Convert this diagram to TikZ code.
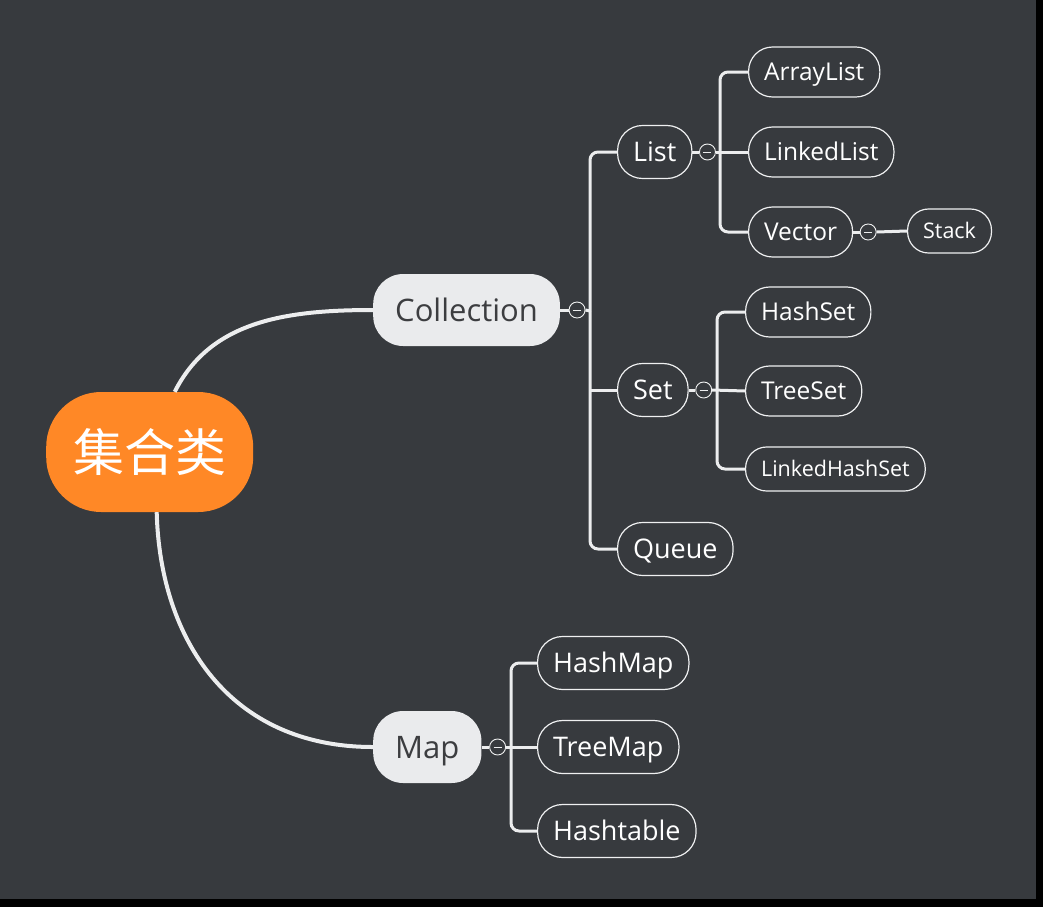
\documentclass[tikz,border=0pt]{standalone}
\usepackage{fontspec}
\setmainfont{Open Sans}
\newfontfamily\cjk{Noto Sans CJK SC}
\definecolor{bgdark}{HTML}{373A3E}
\definecolor{rootorange}{HTML}{FF8826}
\definecolor{paper}{HTML}{EAEBED}
\definecolor{ink}{HTML}{3C3D40}
\definecolor{wirecol}{HTML}{ECEDEE}

\tikzset{
  topic/.style={rectangle,text depth=0pt,inner ysep=0pt},
  wire/.style={draw=wirecol,line width=3pt},
  fold/.style={circle,draw=wirecol!80,line width=0.9pt,fill=bgdark,minimum size=16pt,inner sep=0pt,
    path picture={\draw[wirecol,line width=0.8pt] ([xshift=-4pt]path picture bounding box.center) -- ([xshift=4pt]path picture bounding box.center);}},
}

\begin{document}
\begin{tikzpicture}[x=1pt,y=-1pt,
    root/.style={topic,fill=rootorange,text=white,rounded corners=55pt,minimum height=120pt,inner xsep=27pt,
      text height=39pt,font=\cjk\fontsize{51pt}{56pt}\selectfont},
    main/.style={topic,fill=paper,text=ink,rounded corners=30pt,minimum height=72pt,inner xsep=22pt,
      text height=22.3pt,font=\fontsize{31pt}{36pt}\selectfont},
    sub/.style={topic,draw=wirecol!85,line width=1.2pt,text=white,rounded corners=25pt,minimum height=53pt,inner xsep=15.5pt,
      text height=19.4pt,font=\fontsize{27pt}{32pt}\selectfont},
    leaf/.style={sub,rounded corners=24pt,minimum height=50pt,text height=17.6pt,font=\fontsize{24.5pt}{29pt}\selectfont},
    tiny/.style={sub,rounded corners=21pt,minimum height=44pt,text height=15.4pt,font=\fontsize{21.5pt}{25pt}\selectfont}]

  \fill[black] (0,0) rectangle (1043,907);
  \fill[bgdark] (0,0) rectangle (1036,899);
  \useasboundingbox (0,0) rectangle (1043,907);

  % main topics
  \node[root,anchor=west] (jihe) at (46,452) {集合类};
  \node[main,anchor=west] (coll) at (373,310) {Collection};
  \node[main,anchor=west] (map) at (373,747) {Map};

  \draw[wire,line width=4pt] ([xshift=25pt]jihe.north) .. controls (210,322) and (283,310) .. (coll.west);
  \draw[wire,line width=4pt] ([xshift=7pt]jihe.south) .. controls (160,640) and (230,747) .. (map.west);

  % Collection
  \node[sub,anchor=west] (list) at (617,152) {List};
  \node[sub,anchor=west] (set) at (617,390) {Set};
  \node[sub,anchor=west] (queue) at (617,549) {Queue};
  \node[fold] (cfold) at ([xshift=17pt]coll.east) {};
  \coordinate (cbar) at (590,311);
  \draw[wire] (coll.east) -- (cfold.west);
  \draw[wire] (cfold.east) -- (cbar);
  \draw[wire,rounded corners=8pt] (cbar) |- (list.west);
  \draw[wire] (cbar |- set.west) -- (set.west);
  \draw[wire,rounded corners=8pt] (cbar) |- (queue.west);

  % List
  \node[leaf,anchor=west] (arraylist) at (748,72) {ArrayList};
  \node[leaf,anchor=west] (linkedlist) at (748,152) {LinkedList};
  \node[leaf,anchor=west] (vector) at (748,232) {Vector};
  \node[tiny,anchor=west] (stack) at (907,231) {Stack};
  \node[fold] (lfold) at ([xshift=15pt]list.east) {};
  \coordinate (lbar) at (720,152);
  \draw[wire] (list.east) -- (lfold.west);
  \draw[wire] (lfold.east) -- (linkedlist.west);
  \draw[wire,rounded corners=8pt] (lbar) |- (arraylist.west);
  \draw[wire,rounded corners=8pt] (lbar) |- (vector.west);
  \node[fold] (vfold) at ([xshift=15pt]vector.east) {};
  \draw[wire] (vector.east) -- (vfold.west);
  \draw[wire] (vfold.east) -- (stack.west);

  % Set
  \node[leaf,anchor=west] (hashset) at (745,312) {HashSet};
  \node[leaf,anchor=west] (treeset) at (745,391) {TreeSet};
  \node[tiny,anchor=west] (linkedhashset) at (745,469) {LinkedHashSet};
  \node[fold] (sfold) at ([xshift=15pt]set.east) {};
  \coordinate (sbar) at (717,390);
  \draw[wire] (set.east) -- (sfold.west);
  \draw[wire] (sfold.east) -- (treeset.west);
  \draw[wire,rounded corners=8pt] (sbar) |- (hashset.west);
  \draw[wire,rounded corners=8pt] (sbar) |- (linkedhashset.west);

  % Map
  \node[sub,anchor=west] (hashmap) at (537,663) {HashMap};
  \node[sub,anchor=west] (treemap) at (537,747) {TreeMap};
  \node[sub,anchor=west] (hashtable) at (537,831) {Hashtable};
  \node[fold] (mfold) at ([xshift=16pt]map.east) {};
  \coordinate (mbar) at (511,747);
  \draw[wire] (map.east) -- (mfold.west);
  \draw[wire] (mfold.east) -- (treemap.west);
  \draw[wire,rounded corners=8pt] (mbar) |- (hashmap.west);
  \draw[wire,rounded corners=8pt] (mbar) |- (hashtable.west);
\end{tikzpicture}
\end{document}
